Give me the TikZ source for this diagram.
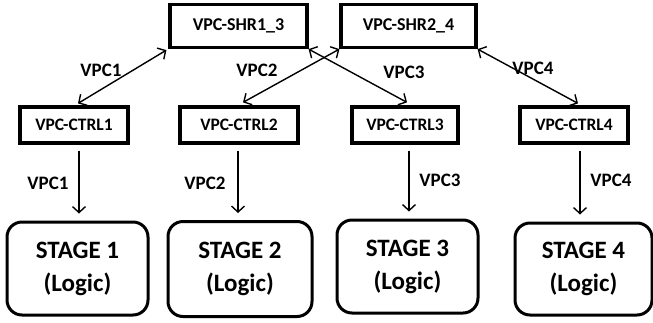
\documentclass[tikz,border=0pt]{standalone}
\usepackage{fontspec}
\setmainfont{Carlito}
\usetikzlibrary{arrows.meta,calc}
\tikzset{
  topbox/.style={draw=black, line width=3.2pt, fill=white, inner sep=0pt, minimum height=43pt, font=\bfseries\fontsize{18}{21}\selectfont},
  ctrlbox/.style={draw=black, line width=3.2pt, fill=white, inner sep=0pt, minimum height=36pt, font=\bfseries\fontsize{17.5}{20}\selectfont},
  stagebox/.style={draw=black, line width=3pt, fill=white, rounded corners=15pt, inner sep=0pt, align=center, font=\bfseries\fontsize{25}{33}\selectfont},
  lbl/.style={font=\bfseries\fontsize{19}{22}\selectfont, inner sep=0pt},
  conn/.style={line width=1.4pt, -{Straight Barb[length=6pt,width=13pt,line width=1.4pt]}},
  biconn/.style={line width=1.4pt, {Straight Barb[length=6pt,width=13pt,line width=1.4pt]}-{Straight Barb[length=6pt,width=13pt,line width=1.4pt]}}
}
\begin{document}
\begin{tikzpicture}[x=1pt,y=-1pt]
\useasboundingbox (0,0) rectangle (653,322);
\node[topbox, minimum width=137pt] (s13) at (238.5,26) {VPC-SHR1\_3};
\node[topbox, minimum width=135pt] (s24) at (408.5,26) {VPC-SHR2\_4};
\node[ctrlbox, minimum width=108pt] (c1) at (74,125) {VPC-CTRL1};
\node[ctrlbox, minimum width=118pt] (c2) at (239,125) {VPC-CTRL2};
\node[ctrlbox, minimum width=106pt] (c3) at (405,125) {VPC-CTRL3};
\node[ctrlbox, minimum width=108pt] (c4) at (574,125) {VPC-CTRL4};
\node[stagebox, minimum width=141pt, minimum height=93pt] (g1) at (77.5,268.5) {STAGE 1\\(Logic)};
\node[stagebox, minimum width=144pt, minimum height=95pt] (g2) at (240,269) {STAGE 2\\(Logic)};
\node[stagebox, minimum width=141pt, minimum height=93pt] (g3) at (407.5,266.5) {STAGE 3\\(Logic)};
\node[stagebox, minimum width=137pt, minimum height=92pt] (g4) at (583.5,269) {STAGE 4\\(Logic)};
% diagonal connectors
\draw[biconn] ($(c1.north)+(4,-2)$) -- ($(s13.south west)+(-2,1)$);
\draw[biconn] ($(c2.north)+(4,-3)$) -- (s24.south west);
\draw[biconn] ($(c3.north)+(2,-3)$) -- (s13.south east);
\draw[biconn] ($(c4.north)+(4,-2)$) -- (s24.south east);
% vertical connector ends
\coordinate (a1) at ($(c1.south)+(5,6)$);
\coordinate (b1) at ($(g1.north)+(1.5,-7)$);
\coordinate (a2) at ($(c2.south)+(-1,6)$);
\coordinate (b2) at ($(g2.north)+(-2,-7)$);
\coordinate (a3) at ($(c3.south)+(4,6)$);
\coordinate (b3) at ($(g3.north)+(1.5,-7)$);
\coordinate (a4) at ($(c4.south)+(6,6)$);
\coordinate (b4) at ($(g4.north)+(-3.5,-7)$);
\draw[conn] (a1) -- (b1);
\draw[conn] (a2) -- (b2);
\draw[conn] (a3) -- (b3);
\draw[conn] (a4) -- (b4);
% labels
\node[lbl] (l1) at (101,70) {VPC1};
\node[lbl] (l2) at (257,70) {VPC2};
\node[lbl] (l3) at (404,72) {VPC3};
\node[lbl] (l4) at (533,68) {VPC4};
\node[lbl] (m1) at (48,183) {VPC1};
\node[lbl] (m2) at (205,183) {VPC2};
\node[lbl] (m3) at (440,180) {VPC3};
\node[lbl] (m4) at (611,180) {VPC4};
\end{tikzpicture}
\end{document}
